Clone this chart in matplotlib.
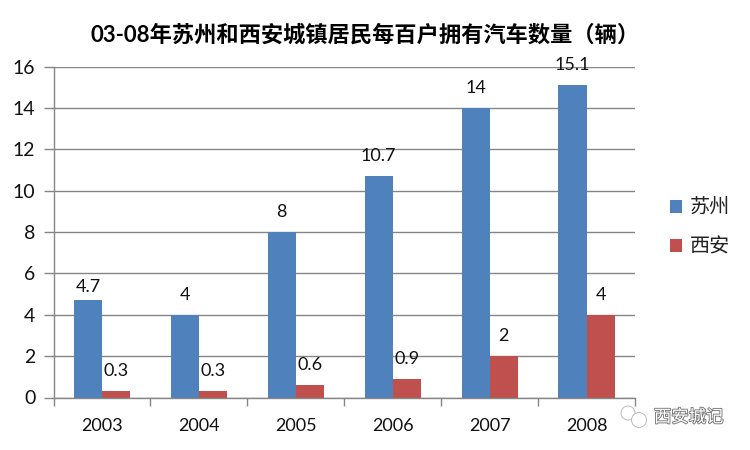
#!python3
# bar chart: cars per 100 urban households, Suzhou and Xi'an, 2003-2008

import numpy as np
import matplotlib
matplotlib.use("Agg")
import matplotlib.pyplot as plt
from matplotlib.patches import Circle
import matplotlib.patheffects as pe

years = ["2003", "2004", "2005", "2006", "2007", "2008"]
suzhou = [4.7, 4, 8, 10.7, 14, 15.1]
xian = [0.3, 0.3, 0.6, 0.9, 2, 4]
suzhou_labels = ["4.7", "4", "8", "10.7", "14", "15.1"]
xian_labels = ["0.3", "0.3", "0.6", "0.9", "2", "4"]
yticks = [0, 2, 4, 6, 8, 10, 12, 14, 16]

plt.rcParams['font.family'] = ['Lato', 'Noto Sans CJK SC', 'DejaVu Sans']

W, H = 750, 450
fig = plt.figure(figsize=(7.5, 4.5), dpi=100)
ax = fig.add_axes([53.5 / W, 1 - 397.5 / H, 581.5 / W, 331 / H])

x = np.arange(len(years))
bar_w = 0.29
ax.bar(x - bar_w / 2, suzhou, bar_w, color="#4F81BD", label="苏州")
ax.bar(x + bar_w / 2, xian, bar_w, color="#C0504D", label="西安")

ax.set_xlim(-0.5, 5.5)
ax.set_ylim(0, 16)
ax.set_yticks(yticks)
ax.set_xticks(x)
ax.set_xticklabels(years)
# short separators between the categories
ax.set_xticks(np.arange(-0.5, 6), minor=True)
ax.tick_params(axis='x', which='major', length=0, labelsize=13, pad=15, colors="#111111")
ax.tick_params(axis='x', which='minor', length=6, width=1, color="#868686")
ax.tick_params(axis='y', length=7, width=1, color="#868686", labelsize=14, pad=6,
               labelcolor="#111111")
ax.grid(axis='y', color="#868686", linewidth=1)
ax.set_axisbelow(True)

for s in ['top', 'right']:
    ax.spines[s].set_visible(False)
for s in ['left', 'bottom']:
    ax.spines[s].set_color("#868686")
    ax.spines[s].set_linewidth(1)

# value labels sit well above the bars, 2003 a little closer
for i in range(len(years)):
    lift = 4 if i == 0 else 8.5
    ax.annotate(suzhou_labels[i], (x[i] - bar_w / 2, suzhou[i]), xytext=(0, lift),
                textcoords='offset points', ha='center', va='bottom', fontsize=13,
                color="#111111", annotation_clip=False)
    ax.annotate(xian_labels[i], (x[i] + bar_w / 2, xian[i]), xytext=(0, 8.5),
                textcoords='offset points', ha='center', va='bottom', fontsize=13,
                color="#111111", annotation_clip=False)

fig.text(365 / W, 1 - 35 / H, "03-08年苏州和西安城镇居民每百户拥有汽车数量（辆）",
         ha='center', va='center', fontsize=16, fontweight='bold', color="#000000")

fig.legend(loc='upper left', bbox_to_anchor=(670 / W, 1 - 198 / H), frameon=False,
           fontsize=14.5, handlelength=0.6, handleheight=0.6, handletextpad=0.4,
           labelspacing=1.05, borderpad=0, borderaxespad=0, labelcolor="#222222")

# watermark at the lower right corner
fig.text(654 / W, 1 - 417 / H, "西安城记", ha='left', va='center', fontsize=12.5,
         color="#ffffff",
         path_effects=[pe.withStroke(linewidth=1.3, foreground="#777777")])
for cx, cy, r in [(628, 413, 7), (639, 420, 7.5)]:
    fig.add_artist(Circle((cx / W * 7.5, 4.5 - cy / H * 4.5), r / 100,
                          transform=fig.dpi_scale_trans, facecolor="white",
                          edgecolor="#bbbbbb", linewidth=0.7))

fig.savefig("out.png", dpi=100)
